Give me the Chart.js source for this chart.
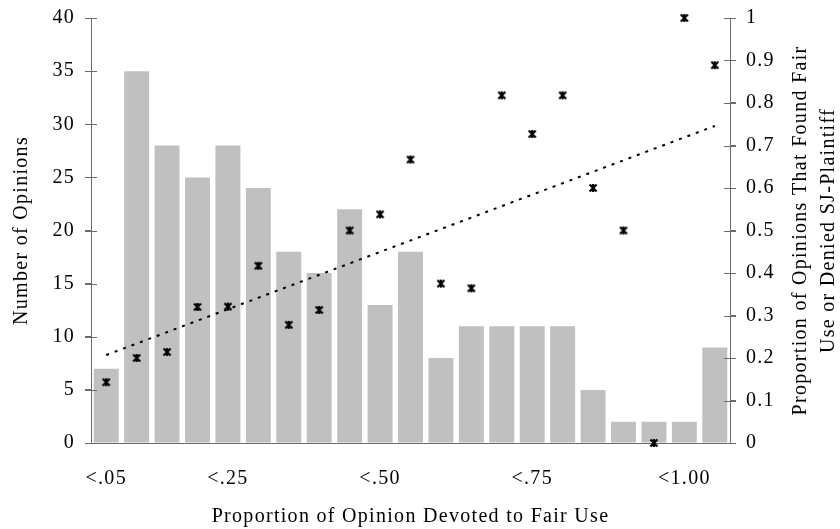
<!DOCTYPE html>
<html>
<head>
<meta charset="utf-8">
<script src="https://cdn.jsdelivr.net/npm/chart.js@4"></script>
<style>
  html, body { margin: 0; padding: 0; background: #fff; }
  #wrap { width: 840px; height: 529px; }
</style>
</head>
<body>
<div id="wrap"><canvas id="chart" width="840" height="529"></canvas></div>
<script>
// categories (share of opinion devoted to fair use)
const categories = ["<.05", "<.10", "<.15", "<.20", "<.25", "<.30", "<.35", "<.40", "<.45", "<.50",
  "<.55", "<.60", "<.65", "<.70", "<.75", "<.80", "<.85", "<.90", "<.95", "<1.00", "1.00"];
const shownLabels = ["<.05", "<.25", "<.50", "<.75", "<1.00"];

// number of opinions per bin (left axis)
const opinionCounts = [7, 35, 28, 25, 28, 24, 18, 16, 22, 13, 18, 8, 11, 11, 11, 11, 5, 2, 2, 2, 9];

// proportion found fair use / denied SJ-plaintiff (right axis)
const proportionFair = [0.143, 0.2, 0.214, 0.32, 0.321, 0.417, 0.278, 0.313, 0.5, 0.538, 0.667,
  0.375, 0.364, 0.818, 0.727, 0.818, 0.6, 0.5, 0, 1, 0.889];

// linear trend, endpoints
const trendEnds = [0.207, 0.746];

const font = { family: "'Liberation Serif', 'Times New Roman', serif", size: 20 };
const spacing = "1.3px";
const axisGray = "#6b6b6b";

// six-armed asterisk marker like the Excel one
const marker = document.createElement("canvas");
marker.width = 10;
marker.height = 10;
(function () {
  const m = marker.getContext("2d");
  m.strokeStyle = "#000";
  m.lineWidth = 2.2;
  m.lineCap = "butt";
  m.beginPath();
  m.moveTo(1.5, 1.5); m.lineTo(8.5, 8.5);
  m.moveTo(8.5, 1.5); m.lineTo(1.5, 8.5);
  m.moveTo(5, 1); m.lineTo(5, 9);
  m.stroke();
})();

// Excel-style ticks that cross the axis line + right title reading bottom-up
const extrasPlugin = {
  id: "extras",
  beforeLayout(chart) { chart.ctx.letterSpacing = spacing; },
  beforeDraw(chart) { chart.ctx.letterSpacing = spacing; },
  afterDraw(chart) {
    const ctx = chart.ctx;
    const area = chart.chartArea;
    ctx.save();
    ctx.strokeStyle = axisGray;
    ctx.lineWidth = 1;
    ["y", "y1"].forEach(id => {
      const sc = chart.scales[id];
      const x = id === "y" ? area.left : area.right;
      sc.ticks.forEach((t, i) => {
        const py = Math.round(sc.getPixelForTick(i)) + 0.5;
        ctx.beginPath();
        ctx.moveTo(x - 6, py);
        ctx.lineTo(x + 6, py);
        ctx.stroke();
      });
    });
    ctx.fillStyle = "#000";
    ctx.font = font.size + "px " + font.family;
    ctx.letterSpacing = spacing;
    ctx.textAlign = "center";
    ctx.textBaseline = "middle";
    ctx.translate(815, (area.top + area.bottom) / 2);
    ctx.rotate(-Math.PI / 2);
    ctx.fillText("Proportion of Opinions That Found Fair", 0, -14);
    ctx.fillText("Use or Denied SJ-Plaintiff", 0, 14);
    ctx.restore();
  }
};

new Chart(document.getElementById("chart"), {
  type: "bar",
  data: {
    labels: categories,
    datasets: [
      {
        type: "line",
        data: proportionFair,
        yAxisID: "y1",
        showLine: false,
        pointStyle: marker,
        pointRadius: 5,
        clip: false,
        order: 1
      },
      {
        type: "line",
        data: [
          { x: categories[0], y: trendEnds[0] },
          { x: categories[categories.length - 1], y: trendEnds[1] }
        ],
        yAxisID: "y1",
        borderColor: "#000",
        borderWidth: 2,
        borderDash: [3, 6],
        pointRadius: 0,
        order: 2
      },
      {
        data: opinionCounts,
        yAxisID: "y",
        backgroundColor: "#c0c0c0",
        categoryPercentage: 0.82,
        barPercentage: 1,
        order: 3
      }
    ]
  },
  options: {
    responsive: false,
    animation: false,
    layout: { padding: { top: 18, left: 0, right: 0, bottom: 0 } },
    plugins: { legend: { display: false }, tooltip: { enabled: false } },
    scales: {
      x: {
        grid: { display: false },
        border: { display: true, color: axisGray },
        ticks: {
          color: "#000", font: font, padding: 16, autoSkip: false, maxRotation: 0,
          callback(v, i) { return shownLabels.includes(categories[i]) ? categories[i] : ""; }
        },
        title: {
          display: true, text: "Proportion of Opinion Devoted to Fair Use",
          color: "#000", font: font, padding: { top: 16, bottom: 0 }
        },
        afterFit(sc) { sc.height = 86; }
      },
      y: {
        position: "left",
        min: 0, max: 40,
        ticks: { stepSize: 5, color: "#000", font: font, padding: 10 },
        grid: { drawOnChartArea: false, tickLength: 6, color: axisGray },
        border: { color: axisGray },
        title: {
          display: true, text: "Number of Opinions",
          color: "#000", font: font, padding: { top: 10, bottom: 0 }
        },
        afterFit(sc) { sc.width = 91; sc.paddingTop = 0; sc.paddingBottom = 0; }
      },
      y1: {
        position: "right",
        min: 0, max: 1,
        ticks: {
          stepSize: 0.1, color: "#000", font: font, padding: 10,
          callback(v) { return String(Math.round(v * 10) / 10); }
        },
        grid: { drawOnChartArea: false, tickLength: 6, color: axisGray },
        border: { color: axisGray },
        afterFit(sc) { sc.width = 110; sc.paddingTop = 0; sc.paddingBottom = 0; }
      }
    }
  },
  plugins: [extrasPlugin]
});
</script>
</body>
</html>
